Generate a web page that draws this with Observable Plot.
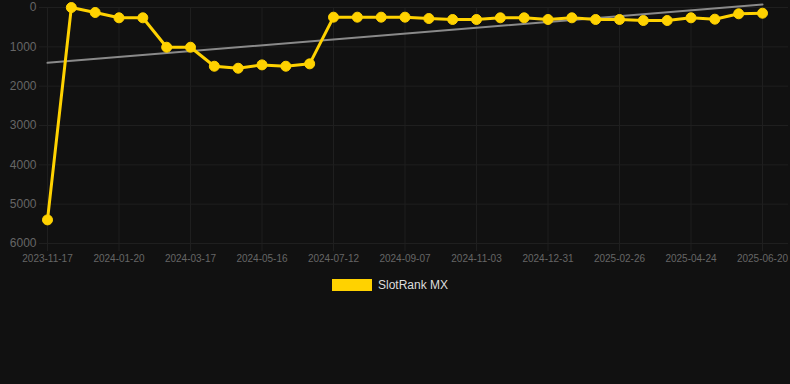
<!DOCTYPE html>
<html><head><meta charset="utf-8">
<script src="https://cdn.jsdelivr.net/npm/d3@7"></script>
<script src="https://cdn.jsdelivr.net/npm/@observablehq/plot@0.6"></script>
<style>
html,body{margin:0;padding:0;background:#111111;}
#wrap{position:relative;width:790px;height:384px;background:#111111;overflow:hidden;}
#legend{position:absolute;left:332px;top:278px;display:flex;align-items:center;font:12px "Liberation Sans",Arial,sans-serif;color:#dddddd;}
#legend .sw{width:40px;height:12px;background:#FFD200;margin-right:6px;}
</style></head><body>
<div id="wrap"><div id="chart"></div><div id="legend"><div class="sw"></div><span id="lname"></span></div></div>
<script>
const dates = ["2023-11-17","2023-12-08","2023-12-29","2024-01-20","2024-02-08","2024-02-27","2024-03-17","2024-04-06","2024-04-26","2024-05-16","2024-06-04","2024-06-23","2024-07-12","2024-07-31","2024-08-19","2024-09-07","2024-09-26","2024-10-15","2024-11-03","2024-11-22","2024-12-12","2024-12-31","2025-01-19","2025-02-07","2025-02-26","2025-03-17","2025-04-05","2025-04-24","2025-05-13","2025-06-01","2025-06-20"];
const ranks = [5400,1,127,262,262,1010,1010,1493,1544,1459,1493,1433,246,246,246,246,280,305,305,262,262,305,262,305,305,331,331,262,297,160,145];
const seriesName = "SlotRank MX";
const xTickLabels = ["2023-11-17","2024-01-20","2024-03-17","2024-05-16","2024-07-12","2024-09-07","2024-11-03","2024-12-31","2025-02-26","2025-04-24","2025-06-20"];
const yTicks = [0,1000,2000,3000,4000,5000,6000];

const data = dates.map((d, i) => ({i, date: d, rank: ranks[i]}));
const xTicks = xTickLabels.map(l => dates.indexOf(l));
const font = "'Liberation Sans', Arial, sans-serif";
const grid = "#1f1f1f";
const n = dates.length - 1;

const chart = Plot.plot({
  width: 790,
  height: 270,
  marginLeft: 47,
  marginRight: 28,
  marginTop: 7,
  marginBottom: 27,
  style: {background: "#111111", fontFamily: font, overflow: "visible"},
  x: {type: "linear", domain: [0, n]},
  y: {domain: [0, 6000], reverse: true},
  marks: [
    Plot.ruleX(xTicks, {stroke: grid, y1: 0, y2: 6000, insetBottom: -8}),
    Plot.ruleY(yTicks, {stroke: grid, x1: 0, x2: n, insetLeft: -8, insetRight: -26}),
    Plot.axisX(xTicks, {tickSize: 0, tickPadding: 11, fill: "#666666", fontSize: 10, tickFormat: i => dates[i], label: null}),
    Plot.axisY(yTicks, {tickSize: 0, tickPadding: 11, fill: "#666666", fontSize: 12, tickFormat: d => String(d), label: null}),
    Plot.linearRegressionY(data, {x: "i", y: "rank", ci: 0, stroke: "#8a8a8a", strokeWidth: 2}),
    Plot.line(data, {x: "i", y: "rank", stroke: "#FFD200", strokeWidth: 3, curve: "linear"}),
    Plot.dot(data, {x: "i", y: "rank", r: 5, fill: "#FFD200", stroke: "#FFD200", strokeWidth: 1})
  ]
});
document.getElementById("chart").appendChild(chart);
document.getElementById("lname").textContent = seriesName;
</script>
</body></html>
